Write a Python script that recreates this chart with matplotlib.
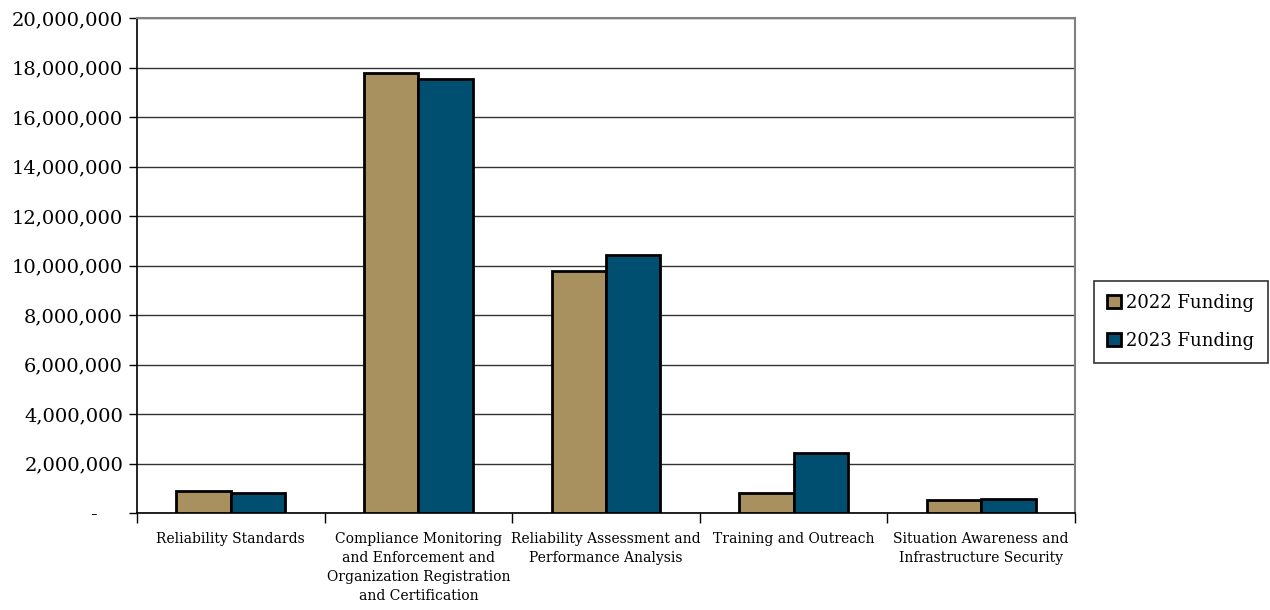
import numpy as np
import matplotlib.pyplot as plt
from matplotlib.ticker import FuncFormatter

categories = ["Reliability Standards",
              "Compliance Monitoring\nand Enforcement and\nOrganization Registration\nand Certification",
              "Reliability Assessment and\nPerformance Analysis",
              "Training and Outreach",
              "Situation Awareness and\nInfrastructure Security"]
funding_2022 = [870000, 17770000, 9790000, 800000, 510000]
funding_2023 = [820000, 17550000, 10420000, 2420000, 550000]
series_names = ["2022 Funding", "2023 Funding"]
colors = ["#A8915E", "#004F70"]

plt.rcParams['font.family'] = ['DejaVu Serif']

fig = plt.figure(figsize=(12.7, 6.1), dpi=100)
ax = fig.add_axes([137/1270, 1-513/610, (1075-137)/1270, (513-18)/610])

x = np.arange(len(categories))
w = 0.29
ax.bar(x - w/2, funding_2022, w, color=colors[0], edgecolor='black', linewidth=2, label=series_names[0], zorder=3)
ax.bar(x + w/2, funding_2023, w, color=colors[1], edgecolor='black', linewidth=2, label=series_names[1], zorder=3)

ax.set_xlim(-0.5, len(categories) - 0.5)
ax.set_ylim(0, 20000000)
ax.set_yticks(np.arange(0, 20000001, 2000000))
ax.yaxis.set_major_formatter(FuncFormatter(lambda v, p: '-    ' if v == 0 else f'{v:,.0f}'))
ax.tick_params(axis='y', labelsize=14, length=6, width=1, direction='out', pad=4)
ax.grid(axis='y', color='#333333', linewidth=1, zorder=0)

ax.set_xticks(np.arange(-0.5, len(categories), 1))
ax.set_xticklabels([])
ax.tick_params(axis='x', which='major', length=7, width=1, direction='out')
ax.set_xticks(x, minor=True)
ax.set_xticklabels(categories, minor=True, fontsize=10, linespacing=1.45)
ax.tick_params(axis='x', which='minor', length=0, pad=14)

for s in ['left', 'bottom']:
    ax.spines[s].set_color('black')
    ax.spines[s].set_linewidth(1.2)
for s in ['top', 'right']:
    ax.spines[s].set_color('#808080')
    ax.spines[s].set_linewidth(1.5)

leg = fig.legend(loc='center right', bbox_to_anchor=(1268/1270, 1-322/610), fontsize=13,
                 frameon=True, fancybox=False, edgecolor='black', handlelength=0.75,
                 handleheight=0.75, handletextpad=0.3, labelspacing=1.1, borderpad=0.75,
                 borderaxespad=0)
leg.get_frame().set_linewidth(1.2)

fig.savefig("out.png", dpi=100)
